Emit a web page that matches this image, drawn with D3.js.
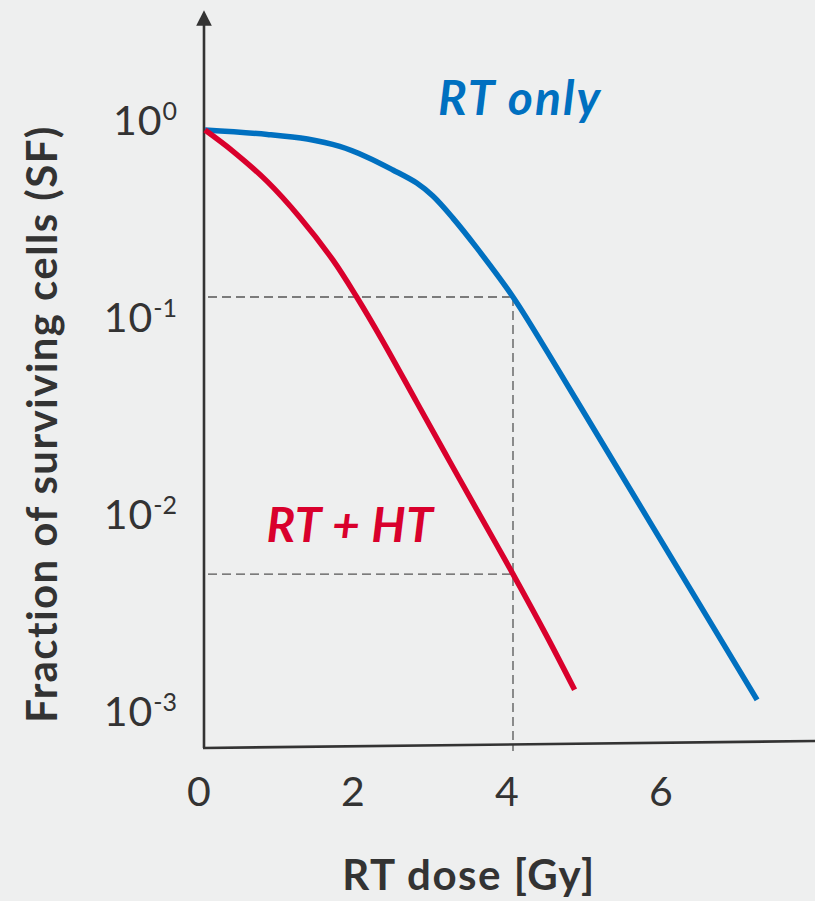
<!DOCTYPE html>
<meta charset="utf-8">
<script src="https://d3js.org/d3.v7.min.js"></script>
<style>
  body { margin: 0; background: #eeefef; }
  svg { display: block; }
</style>
<div id="my_dataviz"></div>
<script>

    // tick labels
    const xTicks = [0, 2, 4, 6];
    const yTicks = [1, 0.1, 0.01, 0.001];
    const yTickExp = ["0", "-1", "-2", "-3"];

    // dose [Gy] and surviving fraction
    const rtDose = [0, 0.81, 1.33, 1.75, 2.1, 2.44, 2.75, 2.96, 3.22, 3.53, 4.0, 4.44, 4.87, 5.78, 7.17];
    const rtSF = [1, 0.95, 0.90, 0.825, 0.73, 0.627, 0.538, 0.462, 0.357, 0.252, 0.142, 0.0754, 0.0397, 0.0102, 0.00128];

    const htDose = [0, 0.36, 0.81, 1.23, 1.66, 1.97, 2.31, 2.75, 3.18, 3.61, 4.0, 4.44, 4.8];
    const htSF = [1, 0.782, 0.547, 0.361, 0.219, 0.142, 0.0846, 0.0415, 0.0207, 0.0104, 0.00557, 0.00269, 0.00144];

    // reference lines at 4 Gy
    const refDose = 4;

    const width = 815, height = 901;
    const axisColor = "#333333";
    const blue = "#0070c0", red = "#d9002c";
    const font = "Lato, 'Open Sans', sans-serif";

    const svg = d3.select("#my_dataviz")
        .append("svg")
        .attr("width", width)
        .attr("height", height);

    svg.append("rect").attr("width", width).attr("height", height).attr("fill", "#eeefef");

    const x = d3.scaleLinear().domain([0, 4]).range([205, 513]);
    const y = d3.scaleLog().domain([1, 0.001]).range([130, 721]);

    const axisBottomY = 748;

    // dashed guide lines
    const rtAt4 = rtSF[rtDose.indexOf(refDose)];
    const htAt4 = htSF[htDose.indexOf(refDose)];
    const dash = svg.append("g")
        .attr("stroke", "#555")
        .attr("stroke-width", 1.3)
        .attr("stroke-dasharray", "9,5")
        .attr("fill", "none");
    [rtAt4, htAt4].forEach(function (v) {
        dash.append("line")
            .attr("x1", x(0) + 3).attr("x2", x(refDose))
            .attr("y1", y(v)).attr("y2", y(v));
    });
    dash.append("line")
        .attr("x1", x(refDose)).attr("x2", x(refDose))
        .attr("y1", y(rtAt4)).attr("y2", axisBottomY + 3);

    // axes
    const defs = svg.append("defs");
    defs.append("marker")
        .attr("id", "arrow")
        .attr("viewBox", "0 0 10 10")
        .attr("refX", 5).attr("refY", 5)
        .attr("markerWidth", 6).attr("markerHeight", 6)
        .attr("markerUnits", "strokeWidth")
        .attr("orient", "auto")
        .append("path")
        .attr("d", "M0,0 L10,5 L0,10 z")
        .attr("fill", axisColor);

    svg.append("line")
        .attr("x1", x(0) - 1).attr("x2", x(0) - 1)
        .attr("y1", axisBottomY).attr("y2", 18)
        .attr("stroke", axisColor)
        .attr("stroke-width", 2.6)
        .attr("marker-end", "url(#arrow)");

    svg.append("line")
        .attr("x1", x(0) - 2).attr("x2", width)
        .attr("y1", axisBottomY).attr("y2", axisBottomY - 7)
        .attr("stroke", axisColor)
        .attr("stroke-width", 2.6);

    // curves
    const line = d3.line()
        .x(function (d) { return x(d[0]) })
        .y(function (d) { return y(d[1]) })
        .curve(d3.curveCatmullRom.alpha(0.5));

    svg.append("path")
        .datum(rtDose.map(function (d, i) { return [d, rtSF[i]] }))
        .attr("d", line)
        .attr("fill", "none")
        .attr("stroke", blue)
        .attr("stroke-width", 5.5);

    svg.append("path")
        .datum(htDose.map(function (d, i) { return [d, htSF[i]] }))
        .attr("d", line)
        .attr("fill", "none")
        .attr("stroke", red)
        .attr("stroke-width", 5.5);

    // x tick labels
    svg.append("g")
        .selectAll("text")
        .data(xTicks)
        .join("text")
        .attr("x", function (d) { return x(d) - 6 })
        .attr("y", 806)
        .attr("text-anchor", "middle")
        .attr("font-family", font)
        .attr("font-size", 41)
        .attr("fill", axisColor)
        .text(function (d) { return d });

    // y tick labels, 10 with superscript exponent
    const yLab = svg.append("g")
        .selectAll("text")
        .data(yTicks)
        .join("text")
        .attr("x", 177)
        .attr("y", function (d) { return y(d) + 5 })
        .attr("text-anchor", "end")
        .attr("font-family", font)
        .attr("fill", axisColor);
    yLab.append("tspan")
        .attr("font-size", 41)
        .attr("letter-spacing", 1)
        .text("10");
    yLab.append("tspan")
        .attr("font-size", 25)
        .attr("dy", -15)
        .text(function (d, i) { return yTickExp[i] });

    // axis titles
    svg.append("text")
        .attr("x", 469)
        .attr("y", 890)
        .attr("text-anchor", "middle")
        .attr("font-family", font)
        .attr("font-weight", "bold")
        .attr("font-size", 42)
        .attr("letter-spacing", 1.5)
        .attr("fill", axisColor)
        .text("RT dose [Gy]");

    svg.append("text")
        .attr("transform", "translate(57, 424) rotate(-90)")
        .attr("text-anchor", "middle")
        .attr("font-family", font)
        .attr("font-weight", "bold")
        .attr("font-size", 42)
        .attr("letter-spacing", 1.4)
        .attr("fill", axisColor)
        .text("Fraction of surviving cells (SF)");

    // series labels
    svg.append("text")
        .attr("x", 520)
        .attr("y", 115)
        .attr("text-anchor", "middle")
        .attr("font-family", font)
        .attr("font-weight", "bold")
        .attr("font-style", "italic")
        .attr("font-size", 48)
        .attr("letter-spacing", 2)
        .attr("fill", blue)
        .text("RT only");

    svg.append("text")
        .attr("x", 350)
        .attr("y", 542)
        .attr("text-anchor", "middle")
        .attr("font-family", font)
        .attr("font-weight", "bold")
        .attr("font-style", "italic")
        .attr("font-size", 48)
        .attr("letter-spacing", 0.5)
        .attr("fill", red)
        .text("RT + HT");

</script>
